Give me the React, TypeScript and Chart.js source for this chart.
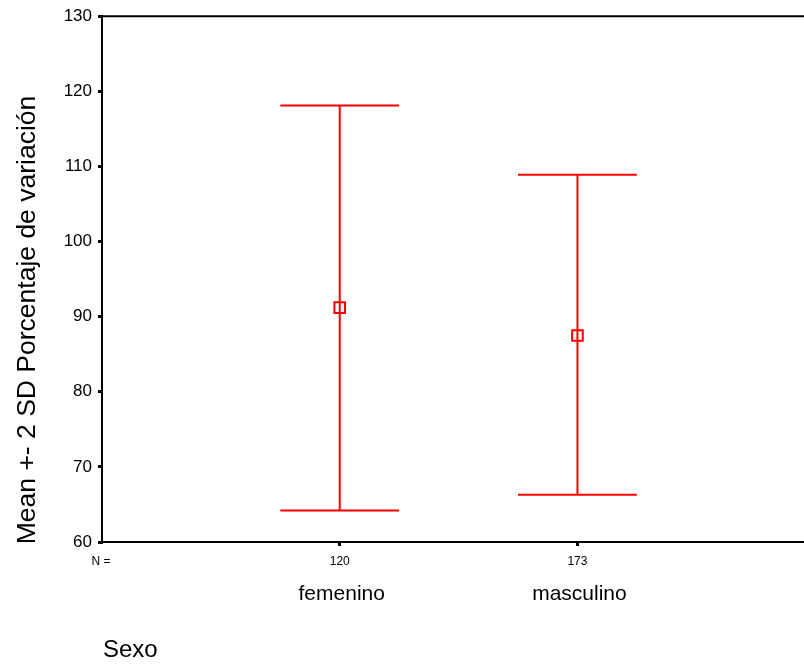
import React, { useEffect, useRef } from "react";
import { Chart, registerables } from "chart.js";

Chart.register(...registerables);

const categories = ["femenino", "masculino"];
const counts = ["120", "173"];
const means = [91.2, 87.5];
const upper = [118.1, 108.9];
const lower = [64.2, 66.3];
const yMin = 60;
const yMax = 130;
const yStep = 10;
const xTitle = "Sexo";
const yTitle = "Mean +- 2 SD Porcentaje de variación";
const nLabel = "N =";

const FONT = '"Liberation Sans", Arial, Helvetica, sans-serif';
const RED = "#ff0000";
const CAP = 0.25;

export default function App() {
  const ref = useRef<HTMLCanvasElement | null>(null);

  useEffect(() => {
    if (!ref.current) return;
    const datasets: any[] = [];
    categories.forEach((_, i) => {
      const x = i + 1;
      const line = {
        type: "line",
        borderColor: RED,
        borderWidth: 2,
        pointRadius: 0,
        fill: false,
        showLine: true,
      };
      datasets.push({ ...line, data: [{ x, y: lower[i] }, { x, y: upper[i] }] });
      datasets.push({ ...line, data: [{ x: x - CAP, y: upper[i] }, { x: x + CAP, y: upper[i] }] });
      datasets.push({ ...line, data: [{ x: x - CAP, y: lower[i] }, { x: x + CAP, y: lower[i] }] });
    });
    datasets.push({
      type: "scatter",
      data: means.map((m, i) => ({ x: i + 1, y: m })),
      pointStyle: "rect",
      pointRadius: 7.5,
      pointBorderWidth: 2,
      pointBorderColor: RED,
      pointBackgroundColor: "rgba(0,0,0,0)",
      showLine: false,
    });

    const framePlugin = {
      id: "frameAndText",
      afterDraw(chart: any) {
        const { ctx, chartArea, scales } = chart;
        ctx.save();
        ctx.strokeStyle = "#000";
        ctx.lineWidth = 2;
        ctx.beginPath();
        ctx.moveTo(chartArea.left - 1, chartArea.top);
        ctx.lineTo(chartArea.right, chartArea.top);
        ctx.stroke();

        ctx.fillStyle = "#000";
        ctx.textBaseline = "alphabetic";
        ctx.font = `12px ${FONT}`;
        ctx.textAlign = "center";
        ctx.fillText(nLabel, chartArea.left - 1, 565);

        ctx.font = `21px ${FONT}`;
        categories.forEach((c, i) => {
          ctx.fillText(c, scales.x.getPixelForValue(i + 1) + 2, 600);
        });

        ctx.textAlign = "left";
        ctx.font = `24px ${FONT}`;
        ctx.fillText(xTitle, 103, 657);

        ctx.translate(35, 320);
        ctx.rotate(-Math.PI / 2);
        ctx.textAlign = "center";
        ctx.font = `26.5px ${FONT}`;
        ctx.fillText(yTitle, 0, 0);
        ctx.restore();
      },
    };

    const chart = new Chart(ref.current, {
      type: "scatter",
      data: { datasets },
      options: {
        animation: false,
        responsive: false,
        maintainAspectRatio: false,
        layout: { autoPadding: false, padding: { top: 14, right: 0, bottom: 0, left: 0 } },
        plugins: { legend: { display: false }, tooltip: { enabled: false } },
        scales: {
          x: {
            type: "linear",
            min: 0,
            max: 2.953,
            afterBuildTicks: (scale: any) => {
              scale.ticks = categories.map((_, i) => ({ value: i + 1 }));
            },
            afterFit: (scale: any) => {
              scale.height = 124;
              scale.paddingLeft = 0;
              scale.paddingRight = 0;
            },
            ticks: {
              autoSkip: false,
              maxRotation: 0,
              color: "#000",
              font: { family: FONT, size: 12 },
              padding: 8,
              callback: (v: any) => counts[Math.round(Number(v)) - 1] ?? "",
            },
            grid: {
              drawOnChartArea: false,
              drawTicks: true,
              tickLength: 4,
              lineWidth: 3,
              color: "#000",
            },
            border: { display: true, color: "#000", width: 2 },
          },
          y: {
            type: "linear",
            min: yMin,
            max: yMax,
            afterFit: (scale: any) => {
              scale.width = 102;
            },
            ticks: {
              stepSize: yStep,
              color: "#000",
              font: { family: FONT, size: 17 },
              padding: 6,
            },
            grid: {
              drawOnChartArea: false,
              drawTicks: true,
              tickLength: 4,
              lineWidth: 3,
              color: "#000",
            },
            border: { display: true, color: "#000", width: 2 },
          },
        },
      },
      plugins: [framePlugin],
    } as any);
    return () => chart.destroy();
  }, []);

  return (
    <div style={{ position: "absolute", left: 0, top: 0, width: 804, height: 666, background: "#fff", overflow: "hidden" }}>
      <canvas ref={ref} width={804} height={666} style={{ display: "block", width: 804, height: 666 }} />
    </div>
  );
}
